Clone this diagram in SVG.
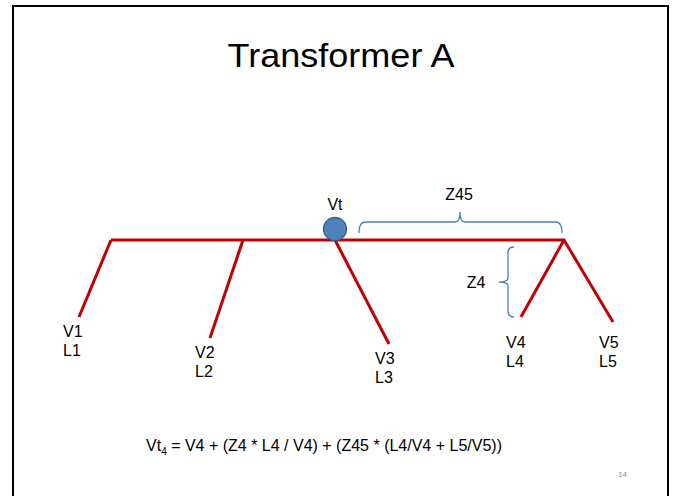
<svg xmlns="http://www.w3.org/2000/svg" width="673" height="496" viewBox="0 0 673 496">
<style>
.t{font-family:"Liberation Sans",Arial,sans-serif;font-size:16px;fill:#000}
.w{stroke:#C00000;stroke-width:3;fill:none;stroke-linecap:butt}
.b{stroke:#4A7EBB;stroke-width:1.3;fill:none}
</style>
<rect x="0" y="0" width="673" height="496" fill="#fff"/>
<path d="M13,500 V6 H668 V500" fill="none" stroke="#000" stroke-width="2"/>
<g id="title"><text x="341" y="67" text-anchor="middle" font-family="Liberation Sans,Arial,sans-serif" font-size="34" textLength="227" lengthAdjust="spacingAndGlyphs">Transformer A</text></g>
<g id="connectors">
<path class="w" d="M111,240 H565"/>
<path class="w" d="M111,240 L79,317"/>
<path class="w" d="M243,240 L210,338"/>
<path class="w" d="M335,240 L389,344"/>
<path class="w" d="M564,240 L521,317"/>
<path class="w" d="M564,240 L613,322"/>
</g>
<g id="vt"><circle cx="335" cy="229" r="11.5" fill="#4F81BD" stroke="#385D8A" stroke-width="1.3"/><text class="t" x="335" y="210" text-anchor="middle" font-size="15">Vt</text></g>
<g id="z45"><path class="b" d="M359,233 Q359,222 365,222 H455 Q460,222 460,212 Q460,222 465,222 H556 Q562,222 562,233"/><text class="t" x="459" y="200" text-anchor="middle">Z45</text></g>
<g id="z4"><path class="b" d="M514,247 Q508,247 508,253 V278 Q508,282 499,282 Q508,282 508,286 V311 Q508,317 514,317"/><text class="t" x="476" y="288" text-anchor="middle">Z4</text></g>
<g id="n1"><text class="t" x="63" y="337">V1</text><text class="t" x="63" y="356">L1</text></g>
<g id="n2"><text class="t" x="195" y="358">V2</text><text class="t" x="195" y="377">L2</text></g>
<g id="n3"><text class="t" x="375" y="364">V3</text><text class="t" x="375" y="383">L3</text></g>
<g id="n4"><text class="t" x="506" y="348">V4</text><text class="t" x="506" y="367">L4</text></g>
<g id="n5"><text class="t" x="599" y="348">V5</text><text class="t" x="599" y="367">L5</text></g>
<g id="eq"><text class="t" x="146" y="451" font-size="15.3">Vt<tspan font-size="10" dy="4">4</tspan><tspan dy="-4"> = V4 + (Z4 * L4 / V4) + (Z45 * (L4/V4 + L5/V5))</tspan></text></g>
<g id="page"><text x="618" y="477" font-family="Liberation Sans,Arial,sans-serif" font-size="8" fill="#8C8C8C">14</text></g>
</svg>
